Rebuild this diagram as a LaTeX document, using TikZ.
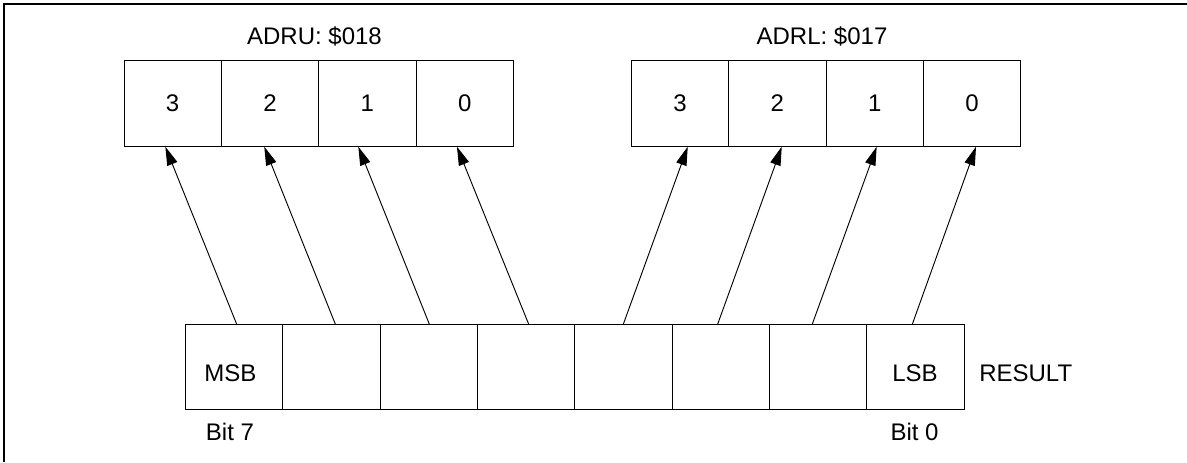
\documentclass[tikz,border=0pt]{standalone}
\usepackage{fontspec}
\setmainfont{Liberation Sans}
\usetikzlibrary{arrows.meta}
\begin{document}
\begin{tikzpicture}[x=0.75pt,y=-0.75pt,
  txt/.style={font=\fontsize{18pt}{21pt}\selectfont},
  cell/.style={draw=black, line width=0.75pt, minimum width=73pt, minimum height=64pt, inner sep=0pt, txt},
  lbl/.style={inner sep=0pt, anchor=base, txt},
  conn/.style={line width=0.7pt, -{Triangle[length=14pt,width=8pt]}},
  frame/.style={line width=1.1pt}]
\useasboundingbox (0,0) rectangle (1187,462);
% frame
\coordinate (fa) at (4,462);
\coordinate (fb) at (4,4);
\coordinate (fc) at (1187,4);
\draw[frame] (fa) -- (fb) -- (fc);
% ADRU register
\node[cell] (u3) at (172.67,103.5) {3};
\node[cell] (u2) at (270.00,103.5) {2};
\node[cell] (u1) at (367.33,103.5) {1};
\node[cell] (u0) at (464.67,103.5) {0};
% ADRL register
\node[cell] (l3) at (680.00,103.5) {3};
\node[cell] (l2) at (777.33,103.5) {2};
\node[cell] (l1) at (874.67,103.5) {1};
\node[cell] (l0) at (972.00,103.5) {0};
% RESULT register
\node[cell] (r7) at (234.00,367.3) {};
\node[cell] (r6) at (331.33,367.3) {};
\node[cell] (r5) at (428.67,367.3) {};
\node[cell] (r4) at (526.00,367.3) {};
\node[cell] (r3) at (623.33,367.3) {};
\node[cell] (r2) at (720.67,367.3) {};
\node[cell] (r1) at (818.00,367.3) {};
\node[cell] (r0) at (915.33,367.3) {};
% labels
\node[lbl] (adru) at (314.5,44.3) {ADRU: \$018};
\node[lbl] (adrl) at (822,44.3) {ADRL: \$017};
\node[lbl] (msb) at (230.5,381.7) {MSB};
\node[lbl] (lsb) at (915,381.7) {LSB};
\node[lbl, anchor=base west] (res) at (979,381.7) {RESULT};
\node[lbl] (b7) at (230,440.7) {Bit 7};
\node[lbl] (b0) at (914.5,440.7) {Bit 0};
% connectors
\draw[conn] ([xshift=2pt]r7.north) -- ([xshift=-5.5pt]u3.south);
\draw[conn] ([xshift=3pt]r6.north) -- ([xshift=-4.3pt]u2.south);
\draw[conn] ([xshift=0.5pt]r5.north) -- ([xshift=-6.75pt]u1.south);
\draw[conn] ([xshift=2pt]r4.north) -- ([xshift=-5.8pt]u0.south);
\draw[conn] (r3.north) -- ([xshift=5.8pt]l3.south);
\draw[conn] ([xshift=-2.25pt]r2.north) -- ([xshift=3.3pt]l2.south);
\draw[conn] ([xshift=-4.3pt]r1.north) -- ([xshift=1.5pt]l1.south);
\draw[conn] ([xshift=-2.25pt]r0.north) -- ([xshift=3pt]l0.south);
\end{tikzpicture}
\end{document}
